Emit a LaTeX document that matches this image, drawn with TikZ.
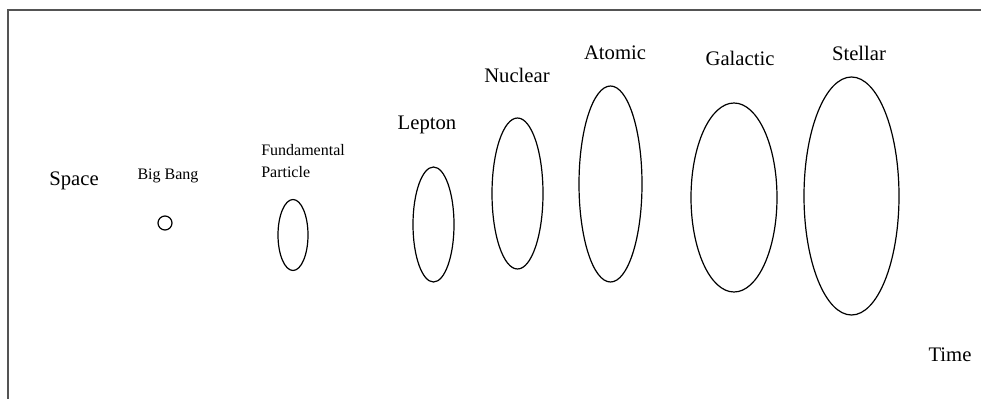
\documentclass[tikz,border=0pt]{standalone}
\usepackage{fontspec}
\setmainfont{Liberation Serif}
\usetikzlibrary{shapes.geometric}

\begin{document}
\begin{tikzpicture}[
  x=0.75pt, y=-0.75pt,
  frameline/.style={draw=black!67, line width=1.5pt},
  orbit/.style={draw, ellipse, line width=0.9pt, inner sep=0pt},
  era/.style={font=\fontsize{15.5}{18}\selectfont, inner sep=0pt},
  minor/.style={font=\fontsize{12}{16.5}\selectfont, inner sep=0pt, align=left}
]
\useasboundingbox (0,0) rectangle (981,399);

% frame
\coordinate (TL) at (8,10);
\coordinate (TR) at (981,10);
\coordinate (BL) at (8,399);
\draw[frameline] (BL) -- (TL) -- (TR);

% axis labels
\node[era] (space) at (74,181) {Space};
\node[era] (time) at (950,355) {Time};

% stages
\node[orbit, circle, minimum size=10.5pt] (bigbang) at (165,223) {};
\node[minor] (bigbangL) at (168,176) {Big Bang};

\node[orbit, minimum width=22.5pt, minimum height=53.25pt] (fund) at (293,235) {};
\node[minor, anchor=north west] (fundL) at (261,144) {Fundamental\\Particle};

\node[orbit, minimum width=30.75pt, minimum height=86.25pt] (lepton) at (433.5,224.5) {};
\node[era] (leptonL) at (427,125) {Lepton};

\node[orbit, minimum width=38.25pt, minimum height=113.25pt] (nuclear) at (517.5,193.5) {};
\node[era] (nuclearL) at (517,75) {Nuclear};

\node[orbit, minimum width=47.25pt, minimum height=147pt] (atomic) at (610.5,184) {};
\node[era] (atomicL) at (615,53) {Atomic};

\node[orbit, minimum width=64.5pt, minimum height=141.75pt] (galactic) at (734,197.5) {};
\node[era] (galacticL) at (740,58) {Galactic};

\node[orbit, minimum width=71.25pt, minimum height=178.5pt] (stellar) at (851.5,196) {};
\node[era] (stellarL) at (859,53) {Stellar};
\end{tikzpicture}
\end{document}
